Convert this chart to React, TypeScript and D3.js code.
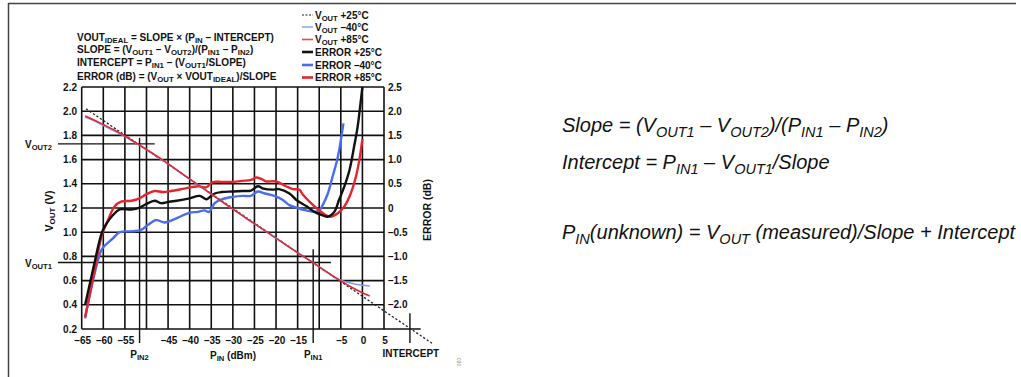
import React from "react";
import * as d3 from "d3";

// ---------- data ----------
const xTicks = [-65, -60, -55, -50, -45, -40, -35, -30, -25, -20, -15, -10, -5, 0, 5];
const xTickHidden = [-50, -10];
const leftTicks = [0.2, 0.4, 0.6, 0.8, 1.0, 1.2, 1.4, 1.6, 1.8, 2.0, 2.2];
const rightTicks = [-2.0, -1.5, -1.0, -0.5, 0, 0.5, 1.0, 1.5, 2.0, 2.5];

// VOUT (V) vs PIN (dBm)
const vout25: [number, number][] = [[-64, 2.02], [-40, 1.44], [-12, 0.76], [16.2, 0.08]];
const voutM40: [number, number][] = [
  [-64.2, 1.952], [-62, 1.918], [-60, 1.882], [-57.5, 1.838], [-55, 1.79], [-51.6, 1.717],
  [-46.6, 1.602], [-41.2, 1.468], [-38, 1.39], [-30, 1.19], [-25, 1.07], [-20, 0.95],
  [-15, 0.83], [-11.5, 0.75], [-8, 0.665], [-6.5, 0.628], [-5, 0.603], [-3.8, 0.588],
  [-1.5, 0.57], [0, 0.562], [1.7, 0.555],
];
const vout85: [number, number][] = [
  [-64.2, 1.96], [-62, 1.925], [-60, 1.89], [-57.5, 1.845], [-55, 1.795], [-51.6, 1.72],
  [-46.6, 1.605], [-41.2, 1.47], [-38, 1.39], [-30, 1.19], [-25, 1.07], [-20, 0.95],
  [-15, 0.83], [-11.5, 0.75], [-8, 0.665], [-5, 0.597], [-2.5, 0.545], [0, 0.5], [1.7, 0.473],
];

// ERROR (dB) vs PIN (dBm)
const err25: [number, number][] = [
  [-64.2, -2.0], [-62.2, -1.2], [-60.3, -0.5], [-59.3, -0.33], [-57.8, -0.15], [-56.2, -0.03],
  [-53.5, -0.03], [-51.6, 0.01], [-50.1, 0.08], [-48.1, 0.15], [-46.6, 0.1], [-44.7, 0.13],
  [-43, 0.15], [-40, 0.2], [-37.7, 0.25], [-36.1, 0.18], [-35.3, 0.23], [-34.2, 0.3],
  [-32.6, 0.33], [-30, 0.34], [-27.7, 0.35], [-25.8, 0.36], [-24.2, 0.45], [-22.9, 0.4],
  [-20.8, 0.38], [-19.3, 0.39], [-16.9, 0.3], [-15.2, 0.16], [-13, 0.04], [-11.1, -0.08],
  [-9.2, -0.15], [-8, -0.18], [-6.5, -0.08], [-5.4, 0.17], [-4.2, 0.44], [-3, 0.78],
  [-1.9, 1.28], [-1.1, 1.68], [-0.35, 2.23], [0, 2.5],
];
const errM40: [number, number][] = [
  [-64.2, -2.28], [-62.4, -1.5], [-60.5, -0.88], [-59.7, -0.78], [-57.8, -0.63], [-56.2, -0.5],
  [-53.2, -0.48], [-51.2, -0.45], [-49.7, -0.35], [-47.8, -0.25], [-45.8, -0.3], [-43.5, -0.23],
  [-40.1, -0.1], [-38.1, -0.08], [-36.6, -0.05], [-35.5, -0.08], [-34.2, 0.1], [-32.6, 0.18],
  [-30, 0.23], [-27.7, 0.25], [-25.8, 0.25], [-24.2, 0.34], [-22.6, 0.3], [-20.4, 0.25],
  [-18.5, 0.17], [-16.9, 0.06], [-15, 0], [-13, -0.05], [-11.1, -0.08], [-10, -0.05],
  [-9.2, 0.06], [-8, 0.3], [-6.9, 0.65], [-5.7, 1.05], [-5, 1.4], [-4.4, 1.75],
];
const err85: [number, number][] = [
  [-64.2, -2.25], [-62, -1.28], [-60.3, -0.55], [-58.9, -0.25], [-57.4, 0.03], [-55.9, 0.13],
  [-53.5, 0.15], [-51.6, 0.2], [-50.1, 0.28], [-48.1, 0.35], [-46.2, 0.33], [-44.3, 0.35],
  [-41.2, 0.4], [-38.1, 0.45], [-36.1, 0.43], [-34.8, 0.53], [-32.6, 0.54], [-30, 0.54],
  [-27.7, 0.56], [-25.8, 0.58], [-24.6, 0.63], [-23.4, 0.6], [-22.3, 0.55], [-20, 0.55],
  [-17.7, 0.45], [-16.1, 0.39], [-14.6, 0.38], [-13.8, 0.28], [-11.9, 0.1], [-10, -0.05],
  [-8.4, -0.15], [-7.3, -0.18], [-5.7, -0.11], [-4.2, 0.03], [-2.7, 0.3], [-1.5, 0.65],
  [-0.7, 1.0], [0, 1.43],
];

// calibration markers
const VOUT1 = 0.75;
const VOUT2 = 1.73;
const PIN1 = -11.4;
const PIN2 = -51.6;
const INTERCEPT = 11;

type Seg = [string, boolean];

const legendItems: { segs: Seg[]; color: string; width: number; dash?: string }[] = [
  { segs: [["V", false], ["OUT", true], [" +25°C", false]], color: "#222", width: 1.2, dash: "2,1.5" },
  { segs: [["V", false], ["OUT", true], [" –40°C", false]], color: "#8ea6f3", width: 1.6 },
  { segs: [["V", false], ["OUT", true], [" +85°C", false]], color: "#e8474c", width: 1.6 },
  { segs: [["ERROR +25°C", false]], color: "#111", width: 2.6 },
  { segs: [["ERROR –40°C", false]], color: "#4a6df0", width: 2.6 },
  { segs: [["ERROR +85°C", false]], color: "#e3262d", width: 2.6 },
];

const formulaLines: Seg[][] = [
  [["VOUT", false], ["IDEAL", true], [" = SLOPE × (P", false], ["IN", true], [" – INTERCEPT)", false]],
  [["SLOPE = (V", false], ["OUT1", true], [" – V", false], ["OUT2", true], [")/(P", false], ["IN1", true], [" – P", false], ["IN2", true], [")", false]],
  [["INTERCEPT = P", false], ["IN1", true], [" – (V", false], ["OUT1", true], ["/SLOPE)", false]],
  [["ERROR (dB) = (V", false], ["OUT", true], [" × VOUT", false], ["IDEAL", true], [")/SLOPE", false]],
];

const eqLines: Seg[][] = [
  [["Slope = (V", false], ["OUT1", true], [" – V", false], ["OUT2", true], [")/(P", false], ["IN1", true], [" – P", false], ["IN2", true], [")", false]],
  [["Intercept = P", false], ["IN1", true], [" – V", false], ["OUT1", true], ["/Slope", false]],
  [["P", false], ["IN", true], ["(unknown) = V", false], ["OUT", true], [" (measured)/Slope + Intercept", false]],
];

function Rich(props: {
  segs: Seg[]; x: number; y: number; size: number; subSize: number; dy: number;
  anchor?: string; weight?: string; italic?: boolean; transform?: string; fill?: string;
}) {
  const { segs, x, y, size, subSize, dy, anchor, weight, italic, transform, fill } = props;
  return (
    <text x={x} y={y} fontSize={size} textAnchor={anchor || "start"} fontWeight={weight || "bold"}
      fontStyle={italic ? "italic" : "normal"} transform={transform} fill={fill || "#111"}>
      {segs.map((s, i) => {
        const prevSub = i > 0 && segs[i - 1][1];
        if (s[1]) return <tspan key={i} dy={dy} fontSize={subSize}>{s[0]}</tspan>;
        return <tspan key={i} dy={prevSub ? -dy : 0}>{s[0]}</tspan>;
      })}
    </text>
  );
}

export default function App() {
  const x = d3.scaleLinear().domain([-65, 5]).range([81.7, 384]);
  const yL = d3.scaleLinear().domain([0.2, 2.2]).range([329, 87]);
  const yR = d3.scaleLinear().domain([-2.5, 2.5]).range([329, 87]);

  const lineV = d3.line<[number, number]>().x(d => x(d[0])).y(d => yL(d[1])).curve(d3.curveCatmullRom.alpha(0.5));
  const lineE = d3.line<[number, number]>().x(d => x(d[0])).y(d => yR(d[1])).curve(d3.curveCatmullRom.alpha(0.5));
  const lineStraight = d3.line<[number, number]>().x(d => x(d[0])).y(d => yL(d[1]));

  const fmtL = d3.format(".1f");
  const fmtR = (v: number) => (v === 0 ? "0" : (v < 0 ? "–" : "") + d3.format(".1f")(Math.abs(v)));
  const fmtX = (v: number) => (v < 0 ? "–" : "") + Math.abs(v);

  const gridColor = "#111";
  const gw = 1.6;
  const left = x(-65), right = x(5), top = yL(2.2), bottom = yL(0.2);
  const fs = 10;

  return (
    <svg width={1021} height={377} style={{ position: "absolute", left: 0, top: 0, background: "#fff" }}
      fontFamily="'Liberation Sans', Arial, sans-serif">
      {/* frame */}
      <line x1={8} x2={1016} y1={3.5} y2={3.5} stroke="#444" strokeWidth={1.5} />
      <line x1={8.5} x2={8.5} y1={3} y2={377} stroke="#444" strokeWidth={1.5} />

      {/* formulas */}
      {formulaLines.map((segs, i) => (
        <Rich key={i} segs={segs} x={77} y={[40.5, 53, 65.5, 79.5][i]} size={10} subSize={7.8} dy={2.3} />
      ))}

      {/* legend */}
      {legendItems.map((it, i) => {
        const cy = [15, 27, 39.5, 52, 65, 77.5][i];
        return (
          <g key={i}>
            <line x1={302} x2={313} y1={cy} y2={cy} stroke={it.color} strokeWidth={it.width} strokeDasharray={it.dash} />
            <Rich segs={it.segs} x={315} y={cy + 3.5} size={10} subSize={7.6} dy={2} />
          </g>
        );
      })}

      {/* grid */}
      {xTicks.map(t => (
        <line key={"gx" + t} x1={x(t)} x2={x(t)} y1={top} y2={bottom} stroke={gridColor} strokeWidth={gw} />
      ))}
      {leftTicks.map(t => (
        <line key={"gy" + t} x1={left} x2={right} y1={yL(t)} y2={yL(t)} stroke={gridColor} strokeWidth={gw} />
      ))}

      {/* markers */}
      <line x1={58} x2={x(-48.1)} y1={yL(VOUT2)} y2={yL(VOUT2)} stroke={gridColor} strokeWidth={1.4} />
      <line x1={58} x2={x(-7.3)} y1={yL(VOUT1)} y2={yL(VOUT1)} stroke={gridColor} strokeWidth={1.4} />
      <line x1={x(PIN2)} x2={x(PIN2)} y1={yL(1.78)} y2={343} stroke={gridColor} strokeWidth={1.4} />
      <line x1={x(PIN1)} x2={x(PIN1)} y1={yL(0.86)} y2={343} stroke={gridColor} strokeWidth={1.4} />
      <line x1={x(INTERCEPT)} x2={x(INTERCEPT)} y1={yL(0.33)} y2={343} stroke={gridColor} strokeWidth={1.4} />
      <line x1={right} x2={x(13.5)} y1={bottom} y2={bottom} stroke={gridColor} strokeWidth={1.6} />

      {/* error curves */}
      <path d={lineE(errM40) || ""} fill="none" stroke="#4a6df0" strokeWidth={2.4} strokeLinejoin="round" />
      <path d={lineE(err85) || ""} fill="none" stroke="#e3262d" strokeWidth={2.4} strokeLinejoin="round" />
      <path d={lineE(err25) || ""} fill="none" stroke="#111" strokeWidth={2.4} strokeLinejoin="round" />

      {/* vout curves */}
      <path d={lineStraight(vout25) || ""} fill="none" stroke="#222" strokeWidth={1.3} strokeDasharray="2.2,2" />
      <path d={lineV(voutM40) || ""} fill="none" stroke="#7f9af2" strokeWidth={1.6} />
      <path d={lineV(vout85) || ""} fill="none" stroke="#e3262d" strokeWidth={1.5} />

      {/* left tick labels */}
      {leftTicks.map(t => (
        <text key={"lt" + t} x={77} y={yL(t) + 3.6} fontSize={fs} fontWeight="bold" textAnchor="end" fill="#111">{fmtL(t)}</text>
      ))}
      {/* right tick labels */}
      {rightTicks.map(t => (
        <text key={"rt" + t} x={388} y={yR(t) + 3.6} fontSize={fs} fontWeight="bold" textAnchor="start" fill="#111">{fmtR(t)}</text>
      ))}
      {/* x tick labels */}
      {xTicks.filter(t => !xTickHidden.includes(t)).map(t => (
        <text key={"xt" + t} x={x(t) + 1} y={344} fontSize={fs} fontWeight="bold" textAnchor="middle" fill="#111">{fmtX(t)}</text>
      ))}

      {/* marker labels */}
      <Rich segs={[["V", false], ["OUT2", true]]} x={25} y={147.5} size={fs} subSize={7.6} dy={2.3} />
      <Rich segs={[["V", false], ["OUT1", true]]} x={25} y={266.5} size={fs} subSize={7.6} dy={2.3} />
      <Rich segs={[["P", false], ["IN2", true]]} x={x(PIN2)} y={357.5} size={fs} subSize={7.6} dy={2.3} anchor="middle" />
      <Rich segs={[["P", false], ["IN1", true]]} x={x(PIN1)} y={357.5} size={fs} subSize={7.6} dy={2.3} anchor="middle" />
      <Rich segs={[["P", false], ["IN", true], [" (dBm)", false]]} x={233} y={358.5} size={fs} subSize={7.6} dy={2.3} anchor="middle" />
      <text x={x(INTERCEPT) + 1} y={356.5} fontSize={fs} fontWeight="bold" textAnchor="middle" fill="#111">INTERCEPT</text>
      <text x={0} y={0} fontSize={5} fill="#888" transform="translate(457,362) rotate(90)" textAnchor="middle">030</text>

      {/* axis titles */}
      <Rich segs={[["V", false], ["OUT", true], [" (V)", false]]} x={0} y={0} size={10.5} subSize={8} dy={2.3}
        anchor="middle" transform="translate(52.5,211) rotate(-90)" />
      <text x={0} y={0} fontSize={10.5} fontWeight="bold" textAnchor="middle" fill="#111"
        transform="translate(430.5,210) rotate(-90)">ERROR (dB)</text>

      {/* right-hand equations */}
      {eqLines.map((segs, i) => (
        <g key={i} transform={`translate(562,${[132, 169, 239][i]}) scale(1.0,1)`}>
          <Rich segs={segs} x={0} y={0} size={20} subSize={14.5} dy={5} weight="normal" italic fill="#111" />
        </g>
      ))}
    </svg>
  );
}
